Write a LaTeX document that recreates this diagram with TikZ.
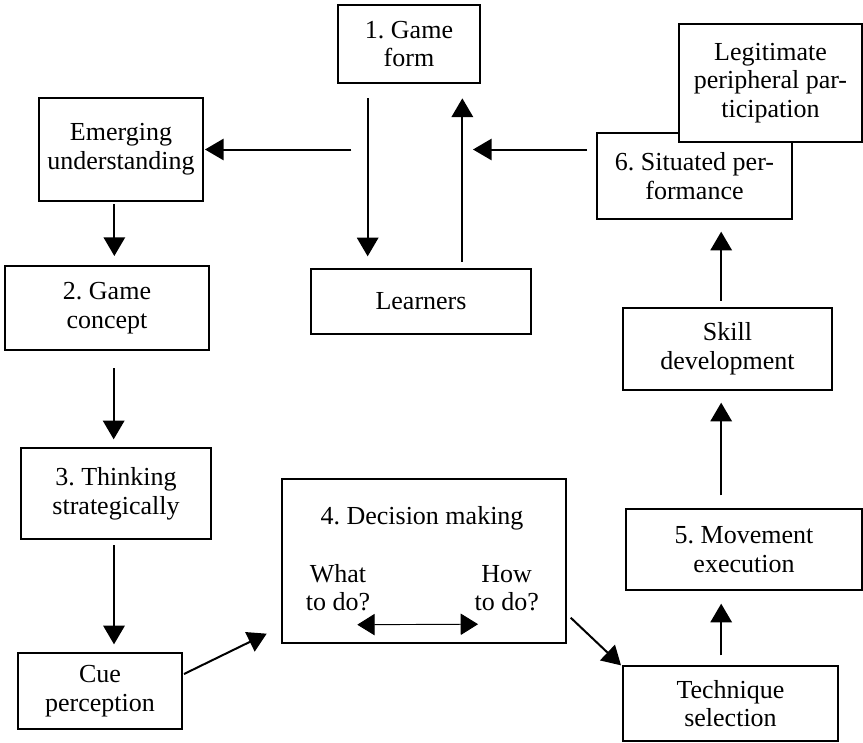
\documentclass[tikz,border=0pt]{standalone}
\usepackage{fontspec}
\setmainfont{Liberation Serif}
\usetikzlibrary{arrows.meta}

\tikzset{every picture/.style={line width=0.75pt}}
\tikzset{
  box/.style={draw, line width=1pt, fill=white, align=center, inner sep=0pt,
    font=\fontsize{19.5pt}{21.5pt}\selectfont\frenchspacing},
  txt/.style={inner sep=0pt, align=center, font=\fontsize{19.5pt}{21pt}\selectfont\frenchspacing},
  arr/.style={line width=1.5pt, -{Triangle[length=14pt,width=16pt]}},
  dbl/.style={line width=0.7pt, {Triangle[length=13pt,width=16pt]}-{Triangle[length=13pt,width=16pt]}},
}

\begin{document}
\begin{tikzpicture}[x=0.75pt,y=0.75pt,yscale=-1]
\useasboundingbox (0,0) rectangle (863,742);

% Boxes
\node[box, minimum width=106.5pt, minimum height=58.5pt] (gform) at (409,44) {1. Game\\form};
\node[box, minimum width=123pt, minimum height=77.25pt] (emerg) at (121,149.5) {Emerging\\understanding};
\node[box, minimum width=153pt, minimum height=63pt] (gconc) at (107,308) {2. Game\\concept};
\node[box, minimum width=165pt, minimum height=48.75pt] (learn) at (421,301.5) {Learners};
\node[box, minimum width=146.25pt, minimum height=64.5pt] (situ) at (694.5,176) {6. Situated per-\\formance};
\node[box, minimum width=137.25pt, minimum height=88.5pt] (legit) at (770.5,83) {Legitimate\\peripheral par-\\ticipation};
\node[box, minimum width=156.75pt, minimum height=61.5pt] (skill) at (727.5,349) {Skill\\development};
\node[box, minimum width=142.5pt, minimum height=68.25pt] (think) at (116,493.5) {3. Thinking\\strategically};
\node[box, minimum width=123pt, minimum height=57pt] (cue) at (100,691) {Cue\\perception};
\node[box, minimum width=213pt, minimum height=123pt] (decis) at (424,561) {};
\node[box, minimum width=177pt, minimum height=60.75pt] (move) at (744,549.5) {5. Movement\\execution};
\node[box, minimum width=161.25pt, minimum height=56.25pt] (tech) at (730.5,703.5) {Technique\\selection};

% Text Node
\node[txt] (dtitle) at ([xshift=-1.5pt,yshift=30pt]decis.north) {4. Decision making};
\node[txt] (what) at ([xshift=-64.5pt,yshift=20pt]decis.center) {What\\to do?};
\node[txt] (how) at ([xshift=62pt,yshift=20pt]decis.center) {How\\to do?};
\draw[dbl] ([xshift=-10pt,yshift=10pt]what.south east) -- ([xshift=3pt,yshift=10pt]how.south west);

% Arrows, top
\draw[arr, shorten <=11pt, shorten >=9pt] ([xshift=-31pt]gform.south) -- ([xshift=-31pt]gform.south |- learn.north);
\draw[arr, shorten <=5pt, shorten >=11pt] ([xshift=31pt]learn.north) -- ([xshift=31pt]learn.north |- gform.south);
\draw[arr] ([xshift=10.5pt]gform.west |- emerg.east) -- ([xshift=1pt]emerg.east);
\draw[arr] ([xshift=-7pt]situ.west |- emerg.east) -- ([xshift=39pt]learn.north |- emerg.east);

% Arrows, left column
\draw[arr, shorten <=2pt, shorten >=7pt] ([xshift=-5pt]emerg.south) -- ([xshift=-5pt]emerg.south |- gconc.north);
\draw[arr, shorten <=13pt, shorten >=6pt] ([xshift=5pt]gconc.south) -- ([xshift=5pt]gconc.south |- think.north);
\draw[arr, shorten <=4pt, shorten >=6pt] ([xshift=-1.5pt]think.south) -- ([xshift=-1.5pt]think.south |- cue.north);

% Arrows, bottom
\draw[arr] ([xshift=1pt,yshift=-12.75pt]cue.east) -- ([xshift=-11pt,yshift=-7.5pt]decis.south west);
\draw[arr] ([xshift=3pt,yshift=-19.5pt]decis.south east) -- ([xshift=-1pt]tech.north west);

% Arrows, right column
\draw[arr, shorten <=7.5pt, shorten >=9.75pt] ([xshift=-7pt]tech.north) -- ([xshift=-7pt]tech.north |- move.south);
\draw[arr, shorten <=9.75pt, shorten >=9pt] ([xshift=-7pt]tech.north |- move.north) -- ([xshift=-7pt]tech.north |- skill.south);
\draw[arr, shorten <=5pt, shorten >=9pt] ([xshift=-7pt]tech.north |- skill.north) -- ([xshift=-7pt]tech.north |- situ.south);
\end{tikzpicture}
\end{document}
